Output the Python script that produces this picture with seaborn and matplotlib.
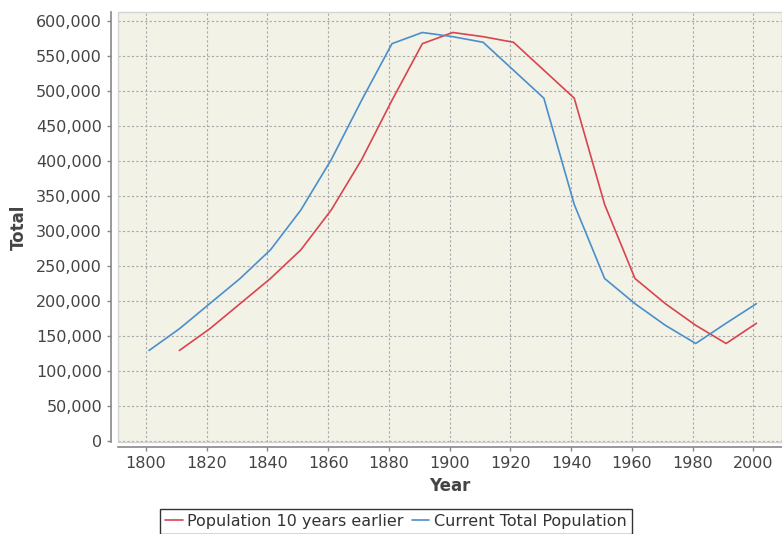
import numpy as np
import pandas as pd
import seaborn as sns
import matplotlib.pyplot as plt
from matplotlib.patches import Rectangle

# 数据: 每十年的人口
years_current = [1801, 1811, 1821, 1831, 1841, 1851, 1861, 1871, 1881, 1891, 1901,
                 1911, 1921, 1931, 1941, 1951, 1961, 1971, 1981, 1991, 2001]
current_pop = [129000, 160000, 196000, 232000, 273000, 330000, 402000, 487000, 568000, 584000, 578000,
               570000, 530000, 490000, 338000, 232000, 196000, 165000, 139000, 168000, 196000]

years_earlier = [1811, 1821, 1831, 1841, 1851, 1861, 1871, 1881, 1891, 1901,
                 1911, 1921, 1931, 1941, 1951, 1961, 1971, 1981, 1991, 2001]
earlier_pop = [129000, 160000, 196000, 232000, 273000, 330000, 402000, 487000, 568000, 584000,
               578000, 570000, 530000, 490000, 338000, 232000, 196000, 165000, 139000, 168000]

series_names = ["Population 10 years earlier", "Current Total Population"]
colors = {series_names[0]: "#d9444f", series_names[1]: "#4a8fcb"}

df = pd.concat([
    pd.DataFrame({"Year": years_earlier, "Total": earlier_pop, "series": series_names[0]}),
    pd.DataFrame({"Year": years_current, "Total": current_pop, "series": series_names[1]}),
])

sns.set_style("white")
plt.rcParams['font.family'] = ['DejaVu Sans']

fig = plt.figure(figsize=(7.82, 5.34), dpi=100)
ax = fig.add_axes([118 / 782, 1 - 441.7 / 534, 1 - 118 / 782, (441.7 - 12) / 534])
ax.set_facecolor("#f3f2e7")

sns.lineplot(data=df, x="Year", y="Total", hue="series", hue_order=series_names,
             palette=colors, linewidth=1.2, ax=ax, legend=False)

ax.set_xlim(1790.8, 2009.4)
ax.set_ylim(-1500, 613300)
ax.set_xticks(range(1800, 2001, 20))
ax.set_yticks(range(0, 600001, 50000))
ax.yaxis.set_major_formatter(plt.FuncFormatter(lambda v, p: f"{int(v):,}"))

ax.grid(True, color="#a8a8a8", linestyle=(0, (2, 2)), linewidth=0.8)
ax.set_axisbelow(True)

# 坐标轴样式
for s in ["top", "right"]:
    ax.spines[s].set_visible(False)
ax.spines["left"].set_position(("outward", 5))
ax.spines["bottom"].set_position(("outward", 4))
for s in ["left", "bottom"]:
    ax.spines[s].set_color("#888888")
    ax.spines[s].set_linewidth(1.2)
ax.add_patch(Rectangle((0, 0), 1, 1, transform=ax.transAxes, fill=False,
                       edgecolor="#d4d4d4", linewidth=1, clip_on=False, zorder=5))

ax.tick_params(axis="both", length=3, width=1, color="#888888",
               labelsize=11.5, labelcolor="#444444", left=True, bottom=True)
ax.set_xlabel("Year", fontsize=12, fontweight="bold", color="#444444", labelpad=4)
ax.set_ylabel("Total", fontsize=12, fontweight="bold", color="#444444", labelpad=6)

handles = [plt.Line2D([], [], color=colors[n], linewidth=1.2) for n in series_names]
leg = fig.legend(handles, series_names, loc="upper center", ncol=2,
                 bbox_to_anchor=(396 / 782, 1 - 509 / 534), frameon=True, fancybox=False,
                 fontsize=11.5, handlelength=1.1, handletextpad=0.3, columnspacing=0.5,
                 borderpad=0.3, borderaxespad=0)
leg.get_frame().set_edgecolor("black")
leg.get_frame().set_linewidth(1)
for t in leg.get_texts():
    t.set_color("#333333")

fig.savefig("out.png", dpi=100)
